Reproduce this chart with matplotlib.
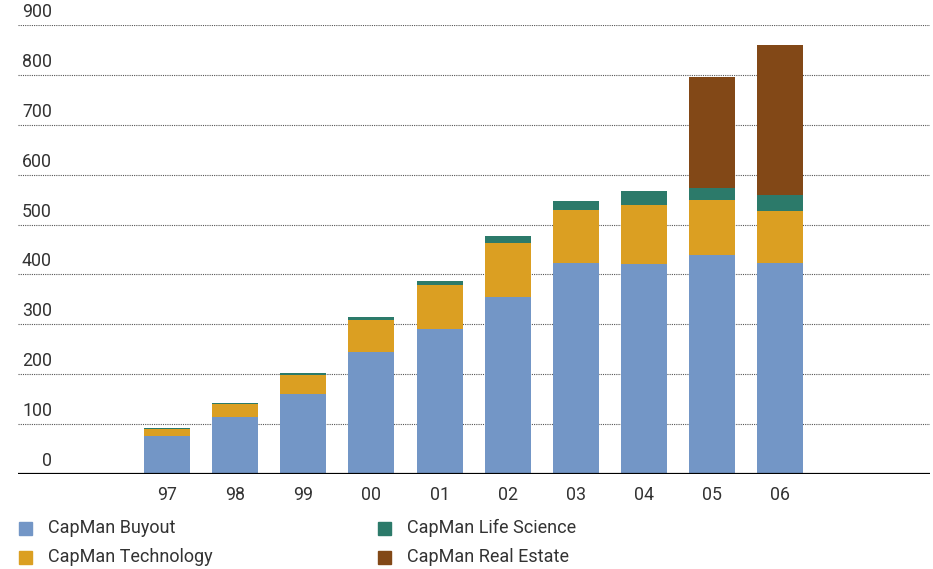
import matplotlib
matplotlib.use("Agg")
import matplotlib.pyplot as plt
from matplotlib.patches import Rectangle
import numpy as np

years = ["97", "98", "99", "00", "01", "02", "03", "04", "05", "06"]
buyout = [76, 114, 160, 245, 290, 355, 423, 421, 439, 423]
technology = [14, 26, 38, 64, 89, 108, 106, 118, 110, 104]
life_science = [2, 2, 4, 6, 8, 14, 18, 28, 24, 32]
real_estate = [0, 0, 0, 0, 0, 0, 0, 0, 223, 301]
series_names = ["CapMan Buyout", "CapMan Technology", "CapMan Life Science", "CapMan Real Estate"]
y_ticks = [0, 100, 200, 300, 400, 500, 600, 700, 800, 900]

colors = ["#7396C6", "#DB9F22", "#2C7A6A", "#824817"]
plt.rcParams['font.family'] = ['Roboto', 'DejaVu Sans']
text_color = "#333333"

W, H = 933, 569
fig = plt.figure(figsize=(W / 100, H / 100), dpi=100)
ax = fig.add_axes([18 / W, (H - 474) / H, (930 - 18) / W, (474 - 25) / H])

x = np.arange(len(years))
bottom = np.zeros(len(years))
for vals, c in zip([buyout, technology, life_science, real_estate], colors):
    v = np.array(vals, dtype=float)
    ax.bar(x, v, bottom=bottom, width=0.675, color=c, zorder=3, linewidth=0)
    bottom += v

ax.set_xlim(-2.188, 11.2)
ax.set_ylim(0, 900)
for t in y_ticks[1:]:
    ax.axhline(t, color="#555555", linestyle=(0, (1, 1)), linewidth=0.8, zorder=1)
ax.axhline(0, color="black", linewidth=1.6, zorder=4)

for s in ax.spines.values():
    s.set_visible(False)
ax.set_yticks([])
ax.set_xticks(x)
ax.set_xticklabels(years, fontsize=12.8, color=text_color)
ax.tick_params(axis="x", length=0, pad=9)

for t in y_ticks:
    ax.annotate(str(t), xy=(0, t), xycoords=("axes fraction", "data"),
                xytext=(34, 4), textcoords="offset pixels",
                ha="right", va="bottom", fontsize=12.8, color=text_color)

# legend
legend_pos = [(19, 528), (19, 557), (378, 528), (378, 557)]
for (px, py), name, c in zip(legend_pos, series_names, colors):
    fig.patches.append(Rectangle((px / W, (H - py - 6.5) / H), 13 / W, 13 / H,
                                 transform=fig.transFigure, color=c))
    fig.text((px + 29) / W, (H - py) / H, name, fontsize=13,
             color=text_color, va="center", ha="left")

fig.savefig("out.png", dpi=100)
